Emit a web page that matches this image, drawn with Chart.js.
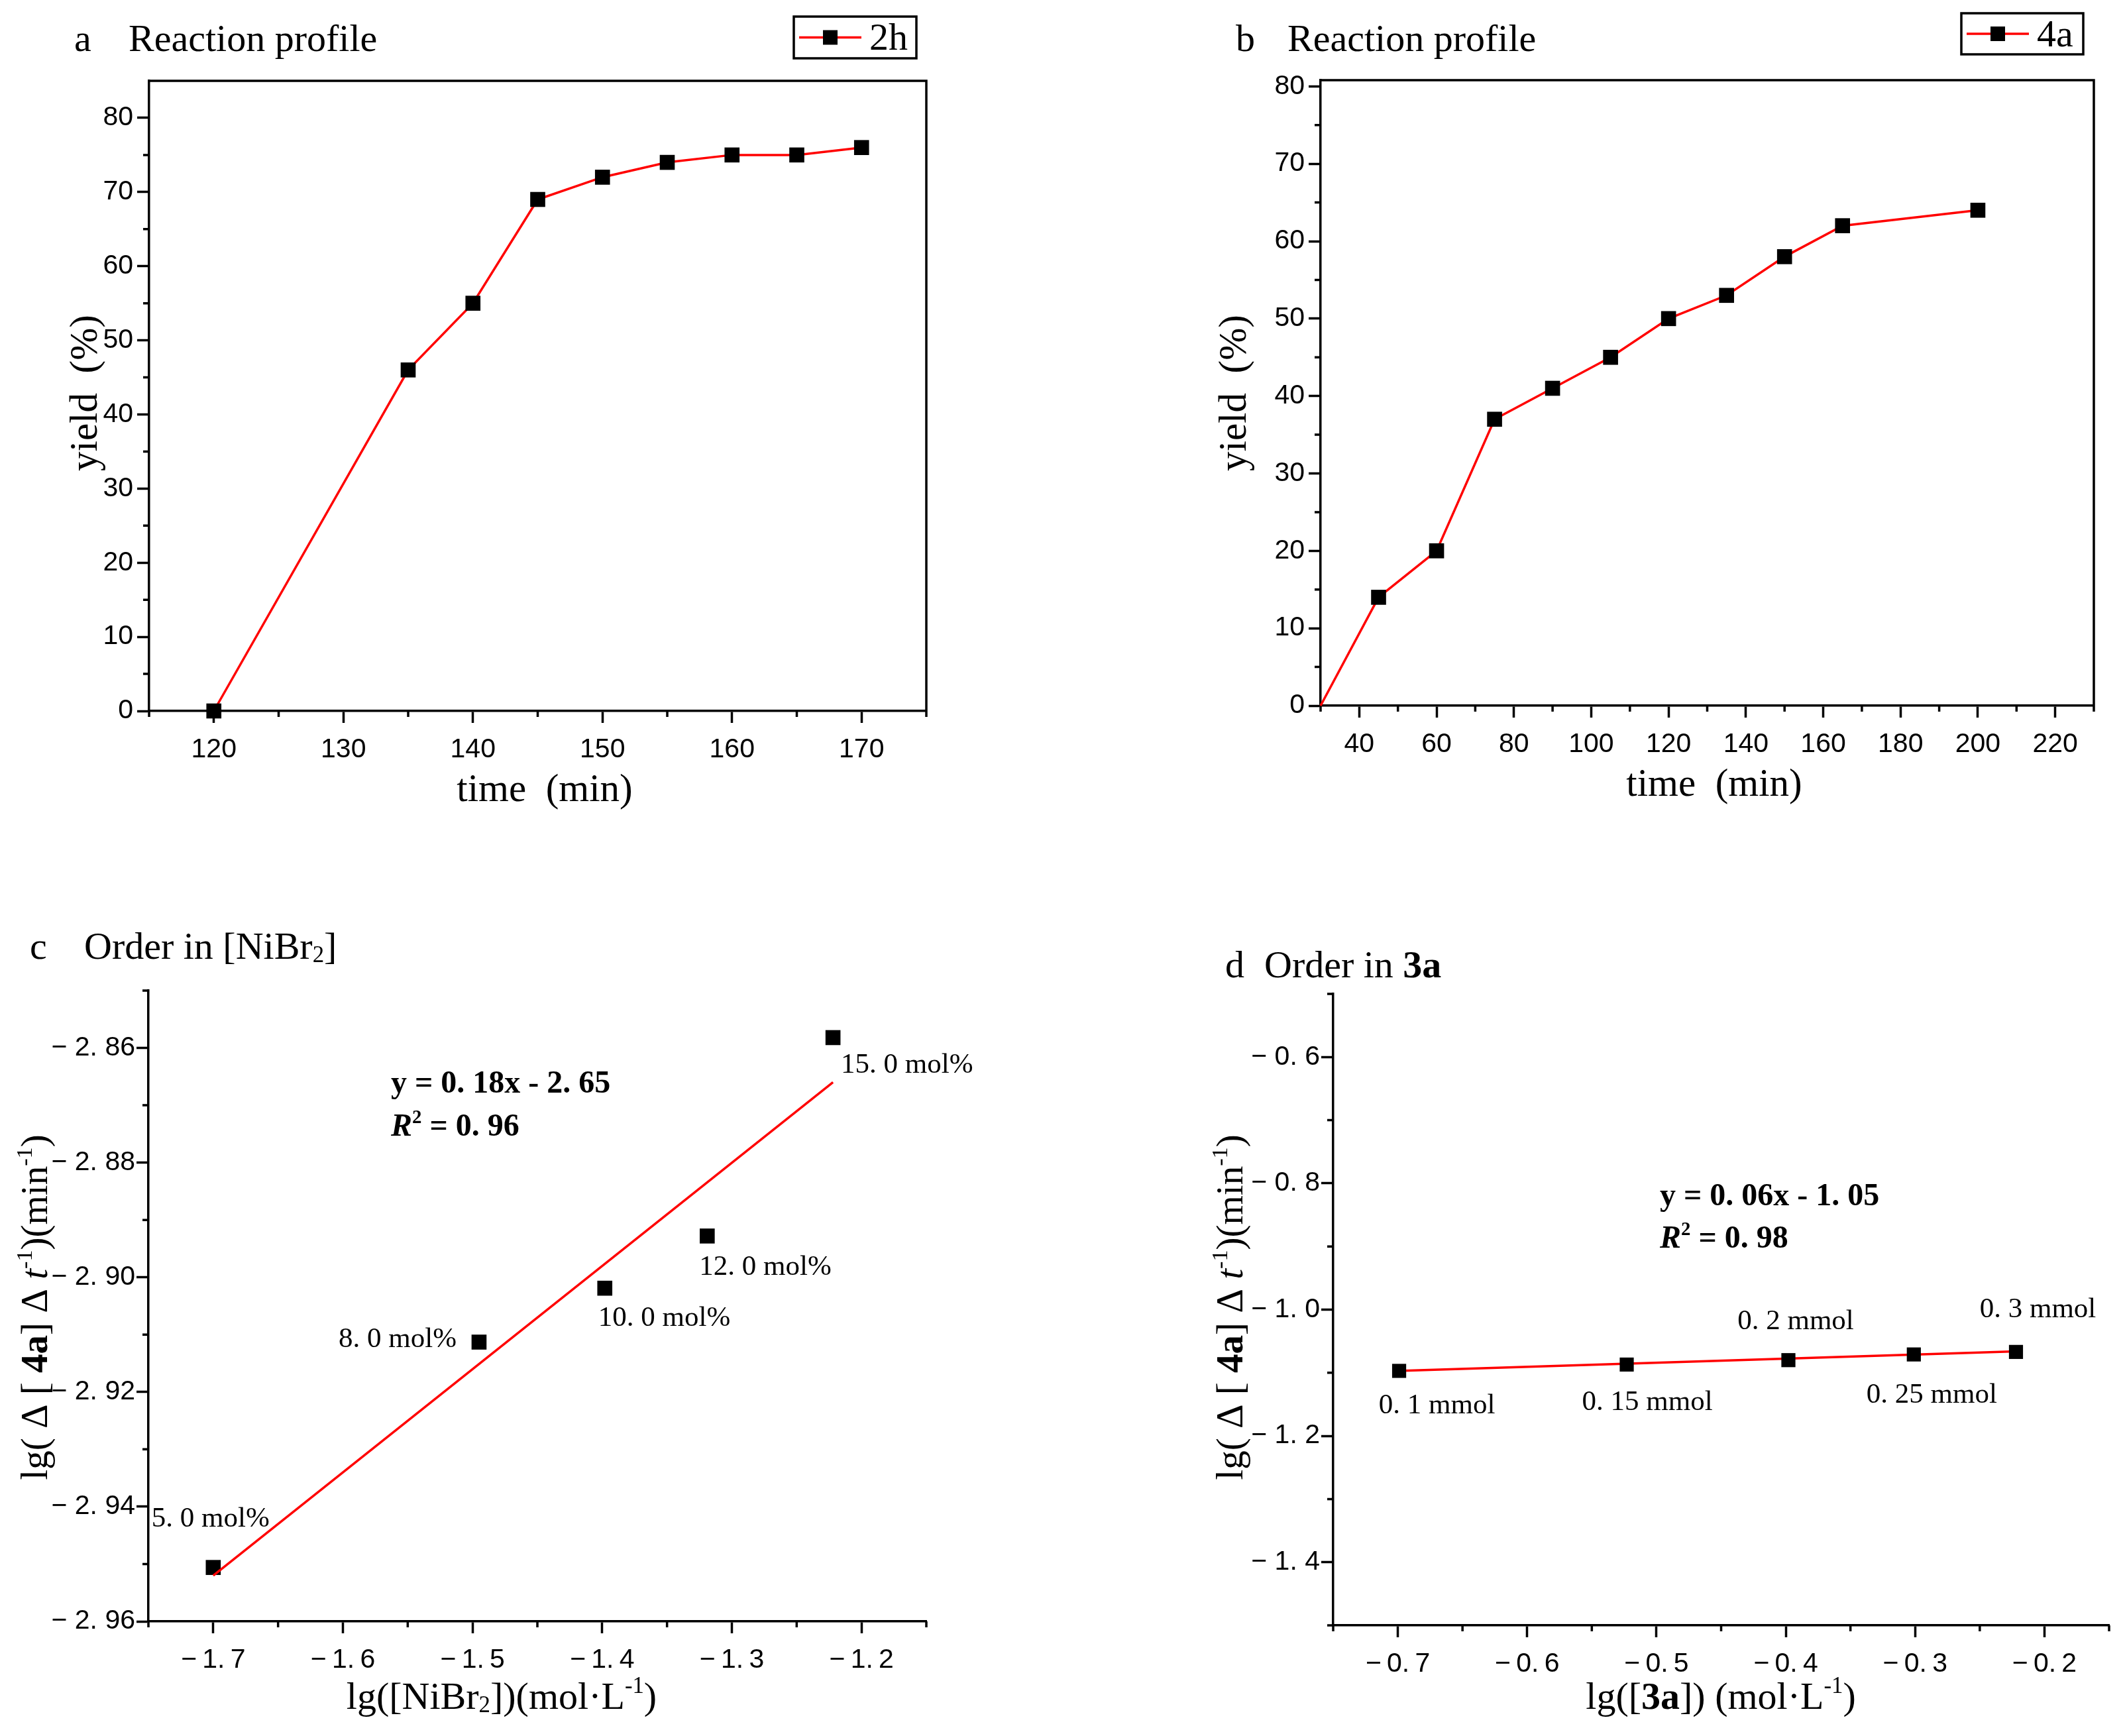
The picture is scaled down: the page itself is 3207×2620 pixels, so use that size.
<!DOCTYPE html>
<html>
<head>
<meta charset="utf-8">
<script src="https://cdn.jsdelivr.net/npm/chart.js@4.4.0/dist/chart.umd.min.js"></script>
<style>
  body { margin: 0; background: #fff; }
  canvas { position: absolute; left: 0; top: 0; }
</style>
</head>
<body>
<canvas id="chartA" width="3207" height="2620"></canvas>
<canvas id="chartB" width="3207" height="2620"></canvas>
<canvas id="chartC" width="3207" height="2620"></canvas>
<canvas id="chartD" width="3207" height="2620"></canvas>
<script>
// ---- data ----
const timeA = [120, 135, 140, 145, 150, 155, 160, 165, 170];
const yieldA = [0, 46, 55, 69, 72, 74, 75, 75, 76];

const timeB = [30, 45, 60, 75, 90, 105, 120, 135, 150, 165, 200];
const yieldB = [0, 14, 20, 37, 41, 45, 50, 53, 58, 62, 64];

const lgNi = [-1.7, -1.495, -1.398, -1.319, -1.222];
const rateNi = [-2.9506, -2.9113, -2.9019, -2.8928, -2.8582];
const namesNi = ['5. 0 mol%', '8. 0 mol%', '10. 0 mol%', '12. 0 mol%', '15. 0 mol%'];
const fitNiX = [-1.7, -1.222];
const fitNiY = [-2.952, -2.866];

const lg3a = [-0.699, -0.523, -0.398, -0.301, -0.222];
const rate3a = [-1.097, -1.087, -1.080, -1.071, -1.067];
const names3a = ['0. 1 mmol', '0. 15 mmol', '0. 2 mmol', '0. 25 mmol', '0. 3 mmol'];
const fit3aX = [-0.7, -0.222];
const fit3aY = [-1.097, -1.066];

// tick values
const ticksAX = [120, 130, 140, 150, 160, 170];
const minorAX = [115, 125, 135, 145, 155, 165, 175];
const ticksAY = [0, 10, 20, 30, 40, 50, 60, 70, 80];
const minorAY = [5, 15, 25, 35, 45, 55, 65, 75];
const ticksBX = [40, 60, 80, 100, 120, 140, 160, 180, 200, 220];
const minorBX = [30, 50, 70, 90, 110, 130, 150, 170, 190, 210, 230];
const ticksBY = [0, 10, 20, 30, 40, 50, 60, 70, 80];
const minorBY = [5, 15, 25, 35, 45, 55, 65, 75];
const ticksCX = [-1.7, -1.6, -1.5, -1.4, -1.3, -1.2];
const minorCX = [-1.75, -1.65, -1.55, -1.45, -1.35, -1.25, -1.15];
const ticksCY = [-2.96, -2.94, -2.92, -2.90, -2.88, -2.86];
const minorCY = [-2.95, -2.93, -2.91, -2.89, -2.87, -2.85];
const ticksDX = [-0.7, -0.6, -0.5, -0.4, -0.3, -0.2];
const minorDX = [-0.75, -0.65, -0.55, -0.45, -0.35, -0.25, -0.15];
const ticksDY = [-1.4, -1.2, -1.0, -0.8, -0.6];
const minorDY = [-1.5, -1.3, -1.1, -0.9, -0.7, -0.5];

// ---- layout / style ----
const W = 3207, H = 2620;
const SERIF = '"Liberation Serif", "Times New Roman", serif';
const SANS = '"Liberation Sans", Arial, sans-serif';
const RED = '#ff0000';
const Y_AXIS_W = 150, X_AXIS_H = 100;
const AXIS_LW = 3.5;

Chart.defaults.color = '#000';
Chart.defaults.animation = false;

// "-2.86" -> "− 2. 86" (y labels), x labels kept tight
function signedY(v, d) {
  const s = Math.abs(v).toFixed(d).replace('.', '. ');
  return v < -1e-9 ? '\u2212 ' + s : s;
}
function signedX(v, d) {
  const s = Math.abs(v).toFixed(d).replace('.', '.\u2009');
  return v < -1e-9 ? '\u2212\u2009' + s : s;
}

function drawRich(ctx, segs, x, y, size, align, angle) {
  ctx.save();
  ctx.translate(x, y);
  if (angle) ctx.rotate(angle);
  ctx.textBaseline = 'alphabetic';
  ctx.textAlign = 'left';
  ctx.fillStyle = '#000';
  const parts = segs.map(s => {
    const sz = (s.sup || s.sub) ? size * 0.6 : size;
    const font = (s.i ? 'italic ' : '') + (s.b ? 'bold ' : '') + sz + 'px ' + SERIF;
    ctx.font = font;
    return { s, font, w: ctx.measureText(s.t).width };
  });
  const total = parts.reduce((a, p) => a + p.w, 0);
  let cx = align === 'center' ? -total / 2 : align === 'right' ? -total : 0;
  const base = size * 0.32;
  parts.forEach(p => {
    ctx.font = p.font;
    const dy = p.s.sup ? -size * 0.4 : p.s.sub ? size * 0.1 : 0;
    ctx.fillText(p.s.t, cx, base + dy);
    cx += p.w;
  });
  ctx.restore();
}

function axis(min, max, ticks, fmt, pad, side) {
  return {
    type: 'linear', min, max,
    afterBuildTicks: s => { s.ticks = ticks.map(v => ({ value: v })); },
    afterFit: s => { if (side === 'y') s.width = Y_AXIS_W; else s.height = X_AXIS_H; },
    ticks: {
      autoSkip: false, maxRotation: 0, minRotation: 0, padding: pad,
      color: '#000', font: { family: SANS, size: 41 },
      callback: fmt
    },
    grid: { drawOnChartArea: false, drawTicks: true, tickLength: 18, tickWidth: AXIS_LW, tickColor: '#000', color: '#000' },
    border: { display: true, color: '#000', width: AXIS_LW }
  };
}

function decorPlugin(p) {
  return {
    id: 'decor',
    beforeDatasetsDraw(chart) {
      const ctx = chart.ctx, a = chart.chartArea;
      const xS = chart.scales.x, yS = chart.scales.y;
      ctx.save();
      ctx.strokeStyle = '#000';
      ctx.lineWidth = AXIS_LW;
      ctx.beginPath();
      p.minorX.forEach(v => { const px = xS.getPixelForValue(v); ctx.moveTo(px, a.bottom); ctx.lineTo(px, a.bottom + 9); });
      p.minorY.forEach(v => { const py = yS.getPixelForValue(v); ctx.moveTo(a.left, py); ctx.lineTo(a.left - 9, py); });
      if (p.box) {
        ctx.moveTo(a.left - 1.5, a.top); ctx.lineTo(a.right, a.top); ctx.lineTo(a.right, a.bottom + 1.5);
      }
      ctx.stroke();
      ctx.restore();
    },
    afterDraw(chart) {
      const ctx = chart.ctx;
      p.texts.forEach(t => drawRich(ctx, t.segs, t.x, t.y, t.size, t.align || 'left', t.angle || 0));
      if (p.legend) {
        const L = p.legend, ds = chart.data.datasets[0];
        ctx.save();
        ctx.strokeStyle = '#000'; ctx.lineWidth = 3.5;
        ctx.strokeRect(L.x, L.y, L.w, L.h);
        const my = L.y + L.h / 2;
        ctx.strokeStyle = ds.borderColor; ctx.lineWidth = 3.5;
        ctx.beginPath(); ctx.moveTo(L.x + 8, my); ctx.lineTo(L.x + 102, my); ctx.stroke();
        ctx.fillStyle = '#000';
        ctx.fillRect(L.x + 55 - 11, my - 11, 22, 22);
        ctx.restore();
        drawRich(ctx, [{ t: ds.label }], L.x + 114, my, 58, 'left');
      }
      if (p.pointLabels) {
        const meta = chart.getDatasetMeta(p.pointLabels.index);
        meta.data.forEach((el, i) => {
          const o = p.pointLabels.offsets[i];
          drawRich(ctx, [{ t: p.pointLabels.names[i] }], el.x + o[0], el.y + o[1], 43, o[2]);
        });
      }
    }
  };
}

function makeChart(id, area, datasets, scales, plugin) {
  return new Chart(document.getElementById(id), {
    type: 'scatter',
    data: { datasets },
    options: {
      responsive: false,
      animation: false,
      layout: { padding: { left: area.L - Y_AXIS_W, right: W - area.R, top: area.T, bottom: H - area.B - X_AXIS_H } },
      plugins: { legend: { display: false }, tooltip: { enabled: false }, title: { display: false } },
      scales
    },
    plugins: [plugin]
  });
}

function pts(xs, ys) { return xs.map((x, i) => ({ x, y: ys[i] })); }

const markerStyle = {
  pointStyle: 'rect', pointBackgroundColor: '#000', pointBorderColor: '#000', pointBorderWidth: 0
};

// ---- panel a ----
makeChart('chartA', { L: 225, R: 1398, T: 122, B: 1073 }, [
  Object.assign({ label: '2h', data: pts(timeA, yieldA), showLine: true, borderColor: RED, borderWidth: 3.5, pointRadius: 16, clip: false }, markerStyle)
], {
  x: axis(115, 175, ticksAX, v => v, 16, 'x'),
  y: axis(0, 85, ticksAY, v => v, 6, 'y')
}, decorPlugin({
  minorX: minorAX, minorY: minorAY, box: true,
  legend: { x: 1198, y: 25, w: 185, h: 63 },
  texts: [
    { segs: [{ t: 'a' }], x: 112, y: 58, size: 58 },
    { segs: [{ t: 'Reaction profile' }], x: 194, y: 58, size: 58 },
    { segs: [{ t: 'time  (min)' }], x: 822, y: 1190, size: 59, align: 'center' },
    { segs: [{ t: 'yield  (%)' }], x: 127, y: 593, size: 59, align: 'center', angle: -Math.PI / 2 }
  ]
}));

// ---- panel b ----
makeChart('chartB', { L: 1993, R: 3160, T: 121, B: 1065 }, [
  Object.assign({ label: '4a', data: pts(timeB, yieldB), showLine: true, borderColor: RED, borderWidth: 3.5,
    pointRadius: yieldB.map((v, i) => i === 0 ? 0 : 16), clip: false }, markerStyle)
], {
  x: axis(30, 230, ticksBX, v => v, 16, 'x'),
  y: axis(0, 80.8, ticksBY, v => v, 6, 'y')
}, decorPlugin({
  minorX: minorBX, minorY: minorBY, box: true,
  legend: { x: 2960, y: 20, w: 184, h: 62 },
  texts: [
    { segs: [{ t: 'b' }], x: 1865, y: 58, size: 58 },
    { segs: [{ t: 'Reaction profile' }], x: 1943, y: 58, size: 58 },
    { segs: [{ t: 'time  (min)' }], x: 2587, y: 1182, size: 59, align: 'center' },
    { segs: [{ t: 'yield  (%)' }], x: 1861, y: 593, size: 59, align: 'center', angle: -Math.PI / 2 }
  ]
}));

// ---- panel c ----
const yTitleRate = [
  { t: 'lg( \u0394 [ ' }, { t: '4a', b: 1 }, { t: '] \u0394 ' }, { t: 't', i: 1 }, { t: '-1', sup: 1 },
  { t: ')(min' }, { t: '-1', sup: 1 }, { t: ')' }
];
makeChart('chartC', { L: 224, R: 1398, T: 1495, B: 2447 }, [
  { label: 'fit', data: pts(fitNiX, fitNiY), showLine: true, borderColor: RED, borderWidth: 3.5, pointRadius: 0, clip: false },
  Object.assign({ label: 'NiBr2', data: pts(lgNi, rateNi), showLine: false, pointRadius: 16, clip: false }, markerStyle)
], {
  x: axis(-1.75, -1.15, ticksCX, v => signedX(v, 1), 16, 'x'),
  y: axis(-2.96, -2.85, ticksCY, v => signedY(v, 2), 2, 'y')
}, decorPlugin({
  minorX: minorCX, minorY: minorCY, box: false,
  pointLabels: { index: 1, names: namesNi,
    offsets: [[-4, -75, 'center'], [-34, -6, 'right'], [-10, 43, 'left'], [-12, 45, 'left'], [12, 39, 'left']] },
  texts: [
    { segs: [{ t: 'c' }], x: 45, y: 1428, size: 58 },
    { segs: [{ t: 'Order in [NiBr' }, { t: '2', sub: 1 }, { t: ']' }], x: 127, y: 1428, size: 58 },
    { segs: [{ t: 'y = 0. 18x - 2. 65', b: 1 }], x: 590, y: 1634, size: 48 },
    { segs: [{ t: 'R', b: 1, i: 1 }, { t: '2', b: 1, sup: 1 }, { t: ' = 0. 96', b: 1 }], x: 590, y: 1699, size: 48 },
    { segs: [{ t: 'lg([NiBr' }, { t: '2', sub: 1 }, { t: '])(mol\u00b7L' }, { t: '-1', sup: 1 }, { t: ')' }], x: 757, y: 2560, size: 58, align: 'center' },
    { segs: yTitleRate, x: 53, y: 1973, size: 57, align: 'center', angle: -Math.PI / 2 }
  ]
}));

// ---- panel d ----
makeChart('chartD', { L: 2012, R: 3183, T: 1500, B: 2453 }, [
  Object.assign({ label: '3a', data: pts(lg3a, rate3a), showLine: false, pointRadius: 15, clip: false }, markerStyle),
  { label: 'fit', data: pts(fit3aX, fit3aY), showLine: true, borderColor: RED, borderWidth: 3.5, pointRadius: 0, clip: false }
], {
  x: axis(-0.75, -0.15, ticksDX, v => signedX(v, 1), 16, 'x'),
  y: axis(-1.5, -0.5, ticksDY, v => signedY(v, 1), 2, 'y')
}, decorPlugin({
  minorX: minorDX, minorY: minorDY, box: false,
  pointLabels: { index: 0, names: names3a,
    offsets: [[57, 50, 'center'], [31, 55, 'center'], [11, -61, 'center'], [27, 59, 'center'], [33, -66, 'center']] },
  texts: [
    { segs: [{ t: 'd' }], x: 1849, y: 1456, size: 58 },
    { segs: [{ t: 'Order in ' }, { t: '3a', b: 1 }], x: 1908, y: 1456, size: 58 },
    { segs: [{ t: 'y = 0. 06x - 1. 05', b: 1 }], x: 2505, y: 1804, size: 48 },
    { segs: [{ t: 'R', b: 1, i: 1 }, { t: '2', b: 1, sup: 1 }, { t: ' = 0. 98', b: 1 }], x: 2505, y: 1868, size: 48 },
    { segs: [{ t: 'lg([' }, { t: '3a', b: 1 }, { t: ']) (mol\u00b7L' }, { t: '-1', sup: 1 }, { t: ')' }], x: 2597, y: 2560, size: 58, align: 'center' },
    { segs: yTitleRate, x: 1857, y: 1973, size: 57, align: 'center', angle: -Math.PI / 2 }
  ]
}));
</script>
</body>
</html>
